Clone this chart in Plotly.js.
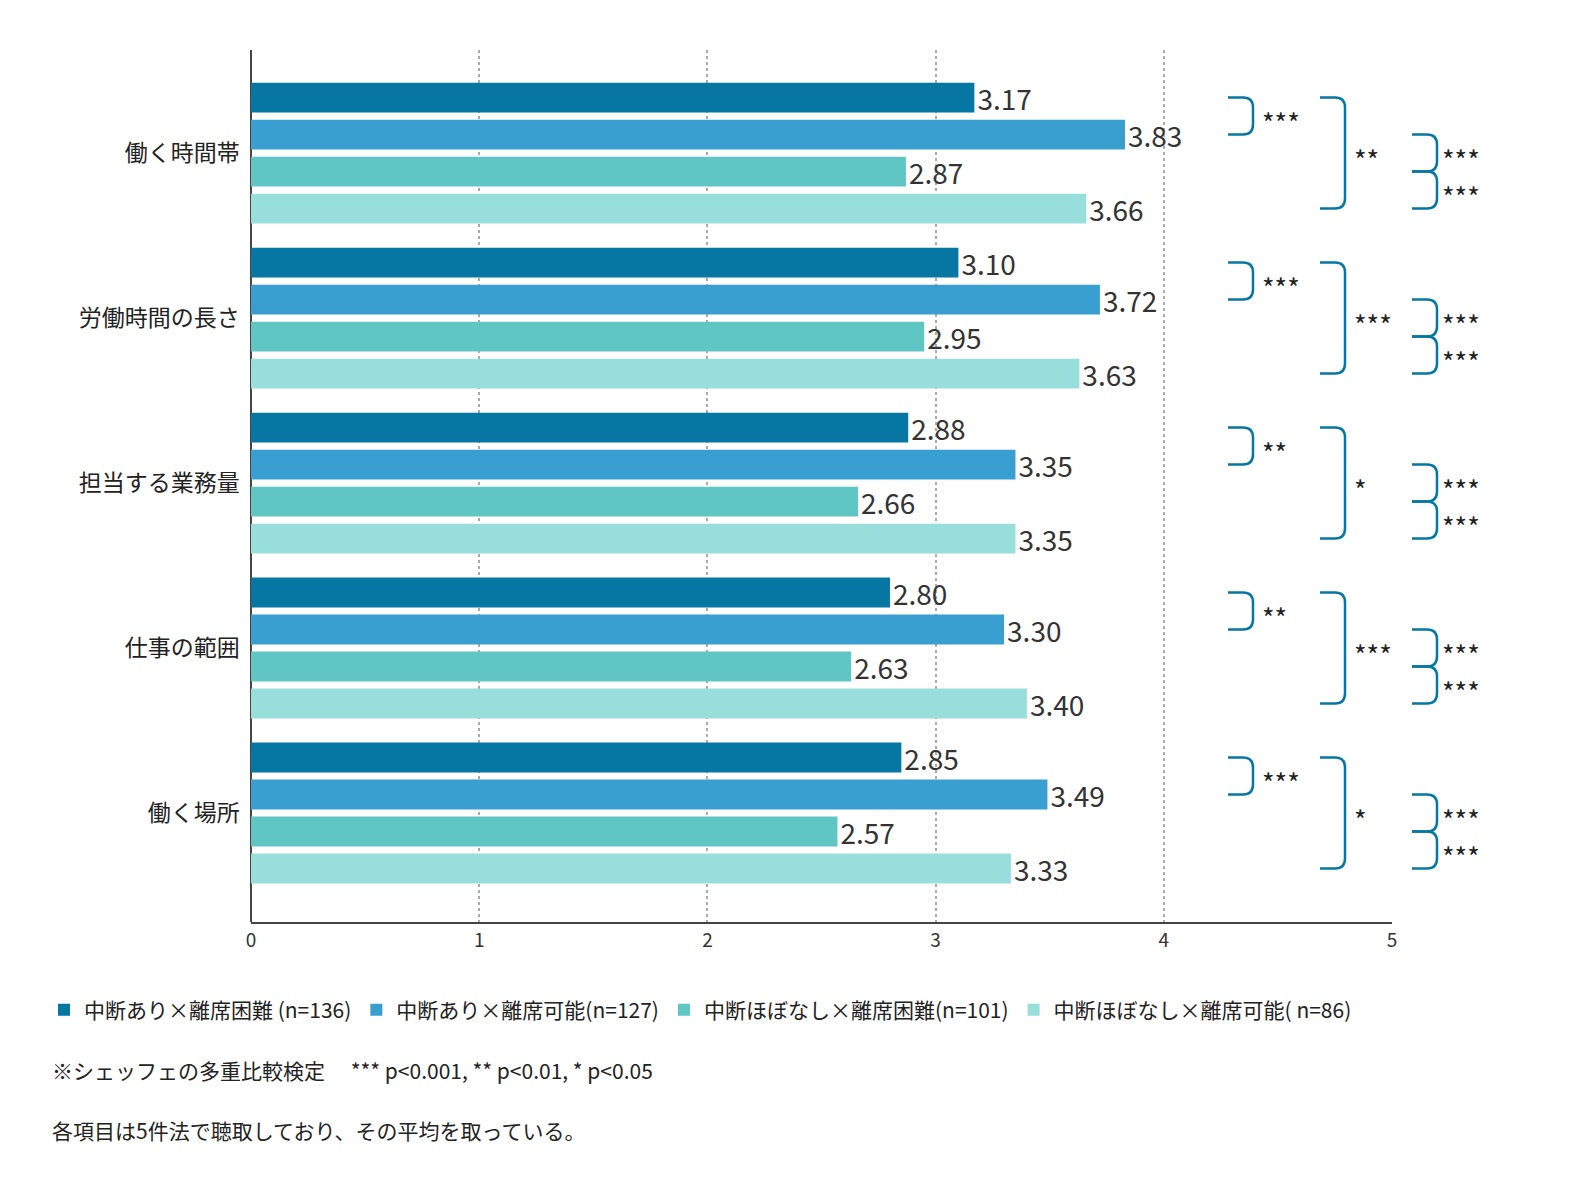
<!DOCTYPE html>
<html><head><meta charset="utf-8">
<script src="https://cdn.plot.ly/plotly-3.0.1.min.js"></script>
<style>html,body{margin:0;background:#fff;overflow:hidden}</style>
</head><body>
<div id="chart" style="width:1580px;height:1204px"></div>
<script>
var categories = ['働く時間帯', '労働時間の長さ', '担当する業務量', '仕事の範囲', '働く場所'];
var seriesNames = ['中断あり×離席困難 (n=136)', '中断あり×離席可能(n=127)', '中断ほぼなし×離席困難(n=101)', '中断ほぼなし×離席可能( n=86)'];
var seriesColors = ['#0677a3', '#389fd0', '#60c6c4', '#98dedb'];
var values = [
  [3.17, 3.10, 2.88, 2.80, 2.85],
  [3.83, 3.72, 3.35, 3.30, 3.49],
  [2.87, 2.95, 2.66, 2.63, 2.57],
  [3.66, 3.63, 3.35, 3.40, 3.33]
];
// significance marks per category
var sigA = ['***', '***', '**', '**', '***'];
var sigB = ['**', '***', '*', '***', '*'];
var sigC = ['***', '***', '***', '***', '***'];
var sigD = ['***', '***', '***', '***', '***'];

var L = 251, R = 1392, T = 50, B = 922;
var yr = [4.66, -0.625];
function py(v) { return T + (v - yr[1]) / (yr[0] - yr[1]) * (B - T); }
function fx(p) { return (p - L) / (R - L); }
function fy(p) { return (B - p) / (B - T); }
var pitch = 37 / 165;
function barPy(c, i) { return py(c + (i - 1.5) * pitch); }

var traces = seriesNames.map(function (n, i) {
  return {
    type: 'bar', orientation: 'h', name: n, y: categories, x: values[i],
    marker: {color: seriesColors[i]},
    text: values[i].map(function (v) { return v.toFixed(2); }),
    textposition: 'outside', cliponaxis: false, constraintext: 'none',
    textfont: {size: 28, color: '#333'}
  };
});

function bracket(x0, w, y0, y1) {
  var r = 10;
  var pts = [[x0, y0], [x0 + w - r, y0], [x0 + w, y0], [x0 + w, y0 + r], [x0 + w, y1 - r], [x0 + w, y1], [x0 + w - r, y1], [x0, y1]];
  var p = pts.map(function (q) { return fx(q[0]) + ',' + fy(q[1]); });
  return {type: 'path', xref: 'paper', yref: 'paper', line: {color: '#0677a3', width: 2.5},
    path: 'M' + p[0] + ' L' + p[1] + ' Q' + p[2] + ' ' + p[3] + ' L' + p[4] + ' Q' + p[5] + ' ' + p[6] + ' L' + p[7]};
}
var shapes = [], annotations = [];
function star(x, y, t) {
  annotations.push({xref: 'paper', yref: 'paper', x: fx(x), y: fy(y), xanchor: 'left', yanchor: 'middle',
    text: t, showarrow: false, font: {size: 27, color: '#222'}});
}
categories.forEach(function (c, k) {
  var b0 = barPy(k, 0), b1 = barPy(k, 1), b2 = barPy(k, 2), b3 = barPy(k, 3);
  shapes.push(bracket(1228, 25, b0, b1));
  shapes.push(bracket(1320, 25, b0, b3));
  shapes.push(bracket(1412, 25, b1, b2));
  shapes.push(bracket(1412, 25, b2, b3));
  star(1260, (b0 + b1) / 2 + 6, sigA[k]);
  star(1352, (b0 + b3) / 2 + 6, sigB[k]);
  star(1440, (b1 + b2) / 2 + 6, sigC[k]);
  star(1440, (b2 + b3) / 2 + 6, sigD[k]);
});
annotations.push({xref: 'paper', yref: 'paper', x: fx(50), y: fy(1070), xanchor: 'left', yanchor: 'middle', showarrow: false,
  text: '※シェッフェの多重比較検定　 *** p&lt;0.001, ** p&lt;0.01, * p&lt;0.05', font: {size: 21, color: '#222'}});
annotations.push({xref: 'paper', yref: 'paper', x: fx(50), y: fy(1130), xanchor: 'left', yanchor: 'middle', showarrow: false,
  text: '各項目は5件法で聴取しており、その平均を取っている。', font: {size: 21, color: '#222'}});

var layout = {
  width: 1580, height: 1204,
  margin: {l: L, r: 1580 - R, t: T, b: 1204 - B},
  font: {family: 'Noto Sans CJK JP, Noto Sans, sans-serif', color: '#222'},
  barmode: 'group', bargap: 0.103, bargroupgap: 0.19,
  xaxis: {range: [0, 5], dtick: 1, showgrid: true, griddash: 'dot', gridcolor: '#aaa', gridwidth: 1.5,
    zeroline: true, zerolinecolor: '#444', zerolinewidth: 1.5, showline: true, linecolor: '#444', linewidth: 1.5,
    ticks: '', tickfont: {size: 19, color: '#333'}},
  yaxis: {range: yr, showline: false, ticks: '', ticksuffix: '  ', tickfont: {size: 23, color: '#222'}},
  showlegend: true,
  legend: {orientation: 'h', x: fx(44), y: fy(1010), xanchor: 'left', yanchor: 'middle', font: {size: 21},
    itemwidth: 30, traceorder: 'normal'},
  shapes: shapes, annotations: annotations
};
Plotly.newPlot('chart', traces, layout, {displayModeBar: false});
</script>
</body></html>
